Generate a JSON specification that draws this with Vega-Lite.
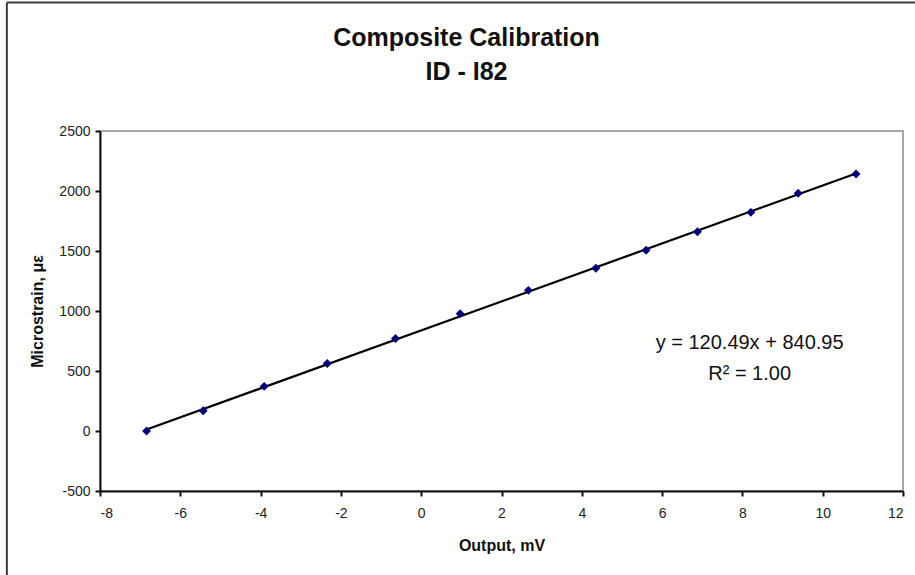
{
  "$schema": "https://vega.github.io/schema/vega-lite/v6.json",
  "width": 803,
  "height": 360,
  "autosize": {"type": "none"},
  "padding": {"left": 100, "top": 131, "right": 12, "bottom": 84},
  "background": "white",
  "title": {
    "text": ["Composite Calibration", "ID - I82"],
    "anchor": "middle",
    "dx": -35,
    "offset": -83,
    "font": "Liberation Sans",
    "fontSize": 25,
    "fontWeight": "bold",
    "color": "#111111",
    "lineHeight": 34
  },
  "config": {
    "view": {"stroke": "#8c8c8c", "strokeWidth": 1.5},
    "axis": {
      "grid": false,
      "domainColor": "#111111",
      "domainWidth": 2,
      "tickColor": "#111111",
      "tickWidth": 2,
      "tickSize": 5,
      "labelFont": "Liberation Sans",
      "labelFontSize": 14,
      "labelColor": "#222222",
      "labelExpr": "replace(datum.label, '\u2212', '-')",
      "titleFont": "Liberation Sans",
      "titleFontSize": 16,
      "titleFontWeight": "bold",
      "titleColor": "#111111"
    }
  },
  "datasets": {
    "calibration": [
      {"output_mv": -6.84, "microstrain": 0},
      {"output_mv": -5.43, "microstrain": 169},
      {"output_mv": -3.91, "microstrain": 372},
      {"output_mv": -2.34, "microstrain": 562},
      {"output_mv": -0.64, "microstrain": 771},
      {"output_mv": 0.97, "microstrain": 978},
      {"output_mv": 2.67, "microstrain": 1172},
      {"output_mv": 4.35, "microstrain": 1357},
      {"output_mv": 5.60, "microstrain": 1506},
      {"output_mv": 6.88, "microstrain": 1660},
      {"output_mv": 8.21, "microstrain": 1822},
      {"output_mv": 9.39, "microstrain": 1982},
      {"output_mv": 10.83, "microstrain": 2141}
    ],
    "fit_label": [
      {"label": "y = 120.49x + 840.95\nR² = 1.00"}
    ],
    "frame": [
      {"edge": "chart area"}
    ]
  },
  "layer": [
    {
      "data": {"name": "calibration"},
      "transform": [{"regression": "microstrain", "on": "output_mv"}],
      "mark": {"type": "line", "color": "#000000", "strokeWidth": 2.2},
      "encoding": {
        "x": {
          "field": "output_mv",
          "type": "quantitative",
          "scale": {"domain": [-8, 12], "nice": false, "zero": false},
          "axis": {
            "title": "Output, mV",
            "values": [-8, -6, -4, -2, 0, 2, 4, 6, 8, 10, 12],
            "labelPadding": 10,
            "titlePadding": 17
          }
        },
        "y": {
          "field": "microstrain",
          "type": "quantitative",
          "scale": {"domain": [-500, 2500], "nice": false, "zero": false},
          "axis": {
            "title": "Microstrain, με",
            "values": [-500, 0, 500, 1000, 1500, 2000, 2500],
            "format": "d",
            "labelPadding": 5,
            "titlePadding": 13
          }
        }
      }
    },
    {
      "data": {"name": "calibration"},
      "mark": {"type": "point", "shape": "diamond", "filled": true, "opacity": 1, "size": 80, "color": "#00007a"},
      "encoding": {
        "x": {"field": "output_mv", "type": "quantitative"},
        "y": {"field": "microstrain", "type": "quantitative"}
      }
    },
    {
      "data": {"name": "fit_label"},
      "mark": {
        "type": "text",
        "font": "Liberation Sans",
        "fontSize": 20,
        "color": "#111111",
        "align": "center",
        "baseline": "middle",
        "lineBreak": "\n",
        "lineHeight": 31
      },
      "encoding": {
        "x": {"datum": 8.18, "type": "quantitative"},
        "y": {"datum": 733, "type": "quantitative"},
        "text": {"field": "label"}
      }
    },
    {
      "data": {"name": "frame"},
      "mark": {"type": "rule", "color": "#3c3c3c", "strokeWidth": 2, "clip": false},
      "encoding": {
        "x": {"datum": -10.32, "type": "quantitative"},
        "y": {"datum": 3570, "type": "quantitative"},
        "y2": {"datum": -5000}
      }
    },
    {
      "data": {"name": "frame"},
      "mark": {"type": "rule", "color": "#3c3c3c", "strokeWidth": 2, "clip": false},
      "encoding": {
        "y": {"datum": 3570, "type": "quantitative"},
        "x": {"datum": -10.32, "type": "quantitative"},
        "x2": {"datum": 14}
      }
    }
  ]
}
